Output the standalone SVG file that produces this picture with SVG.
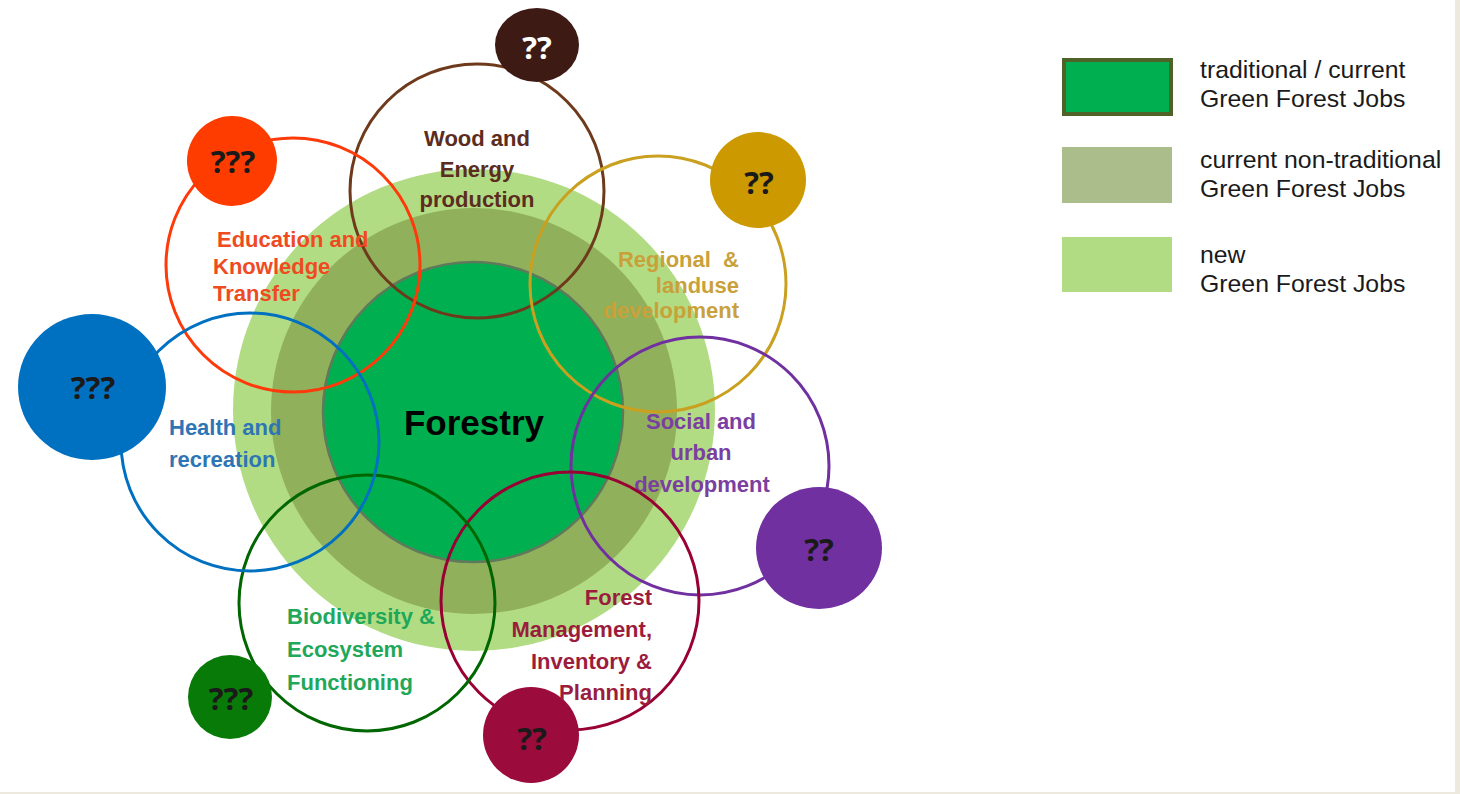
<svg xmlns="http://www.w3.org/2000/svg" width="1460" height="794" viewBox="0 0 1460 794">
<style>
.lbl{font-family:"Liberation Sans",Arial,sans-serif;font-weight:bold;font-size:22px}
.q{font-family:"Open Sans","Liberation Sans",sans-serif;font-weight:bold;font-size:31px;text-anchor:middle}
.ring{fill:none;stroke-width:3}
.leg{font-family:"Liberation Sans",Arial,sans-serif;font-size:24.8px;fill:#1a1a1a}
</style>
<rect x="0" y="0" width="1460" height="794" fill="#ede9df"/>
<rect x="0" y="0" width="1455" height="792" fill="#ffffff"/>

<g id="forestry">
<circle cx="474" cy="410" r="241" fill="#b2dc84"/>
<circle cx="474" cy="411" r="203" fill="#91b05c"/>
<circle cx="473" cy="412" r="150" fill="#00b050" stroke="#5e7a5a" stroke-width="2.5"/>
</g>

<g id="wood">
<circle class="ring" cx="477" cy="191" r="127" stroke="#6e3a1c"/>
<ellipse cx="537" cy="45" rx="42" ry="37" fill="#3d1a14"/>
<text class="q" x="537" y="59" fill="#ffffff">??</text>
<text class="lbl" fill="#5b2c20" text-anchor="middle" x="477"><tspan x="477" y="146">Wood and</tspan><tspan x="477" y="177">Energy</tspan><tspan x="477" y="207">production</tspan></text>
</g>

<g id="education">
<circle class="ring" cx="293" cy="265" r="127" stroke="#ff3a0a"/>
<circle cx="232" cy="161" r="45" fill="#ff3c00"/>
<text class="q" x="233" y="173" fill="#1a1a1a">???</text>
<text class="lbl" fill="#ef4b23"><tspan x="217" y="247">Education and</tspan><tspan x="213" y="274">Knowledge</tspan><tspan x="213" y="301">Transfer</tspan></text>
</g>

<g id="regional">
<circle class="ring" cx="658" cy="284" r="128" stroke="#c9a020"/>
<circle cx="758" cy="180" r="48" fill="#cc9a00"/>
<text class="q" x="759" y="194" fill="#1a1a1a">??</text>
<text class="lbl" fill="#c9a13a" text-anchor="end" style="white-space:pre"><tspan x="739" y="267">Regional  &amp;</tspan><tspan x="739" y="293">landuse</tspan><tspan x="739" y="318">development</tspan></text>
</g>

<g id="social">
<circle class="ring" cx="700" cy="466" r="129" stroke="#7030a0"/>
<ellipse cx="819" cy="548" rx="63" ry="61" fill="#7030a0"/>
<text class="q" x="819" y="561" fill="#1a1a1a">??</text>
<text class="lbl" fill="#7a3fa0" text-anchor="middle"><tspan x="701" y="429">Social and</tspan><tspan x="701" y="460">urban</tspan><tspan x="702" y="492">development</tspan></text>
</g>

<g id="management">
<circle class="ring" cx="570" cy="601" r="129" stroke="#990033"/>
<circle cx="531" cy="735" r="48" fill="#9b0b3b"/>
<text class="q" x="532" y="750" fill="#1a1a1a">??</text>
<text class="lbl" fill="#9b1c3d" text-anchor="end"><tspan x="652" y="605">Forest</tspan><tspan x="652" y="637">Management,</tspan><tspan x="652" y="669">Inventory &amp;</tspan><tspan x="652" y="700">Planning</tspan></text>
</g>

<g id="biodiversity">
<circle class="ring" cx="367" cy="603" r="128" stroke="#006600"/>
<circle cx="230" cy="697" r="42" fill="#087a08"/>
<text class="q" x="231" y="710" fill="#1a1a1a">???</text>
<text class="lbl" fill="#1fa85a"><tspan x="287" y="624">Biodiversity &amp;</tspan><tspan x="287" y="657">Ecosystem</tspan><tspan x="287" y="690">Functioning</tspan></text>
</g>

<g id="health">
<circle class="ring" cx="250" cy="442" r="129" stroke="#0070c0"/>
<ellipse cx="92" cy="387" rx="74" ry="73" fill="#0070c0"/>
<text class="q" x="93" y="399" fill="#1a1a1a">???</text>
<text class="lbl" fill="#2e75b6"><tspan x="169" y="435">Health and</tspan><tspan x="169" y="467">recreation</tspan></text>
</g>

<g id="forestry-label">
<text x="474" y="435" font-family="Liberation Sans,Arial,sans-serif" font-weight="bold" font-size="35" text-anchor="middle" fill="#000">Forestry</text>
</g>

<g id="legend">
<rect x="1064" y="60" width="107" height="54" fill="#00b050" stroke="#4f6228" stroke-width="4"/>
<text class="leg"><tspan x="1200" y="78">traditional / current</tspan><tspan x="1200" y="107">Green Forest Jobs</tspan></text>
<rect x="1062" y="147" width="110" height="56" fill="#aabd8b"/>
<text class="leg"><tspan x="1200" y="168">current non-traditional</tspan><tspan x="1200" y="197">Green Forest Jobs</tspan></text>
<rect x="1062" y="237" width="110" height="55" fill="#b2dc84"/>
<text class="leg"><tspan x="1200" y="263">new</tspan><tspan x="1200" y="292">Green Forest Jobs</tspan></text>
</g>
</svg>
